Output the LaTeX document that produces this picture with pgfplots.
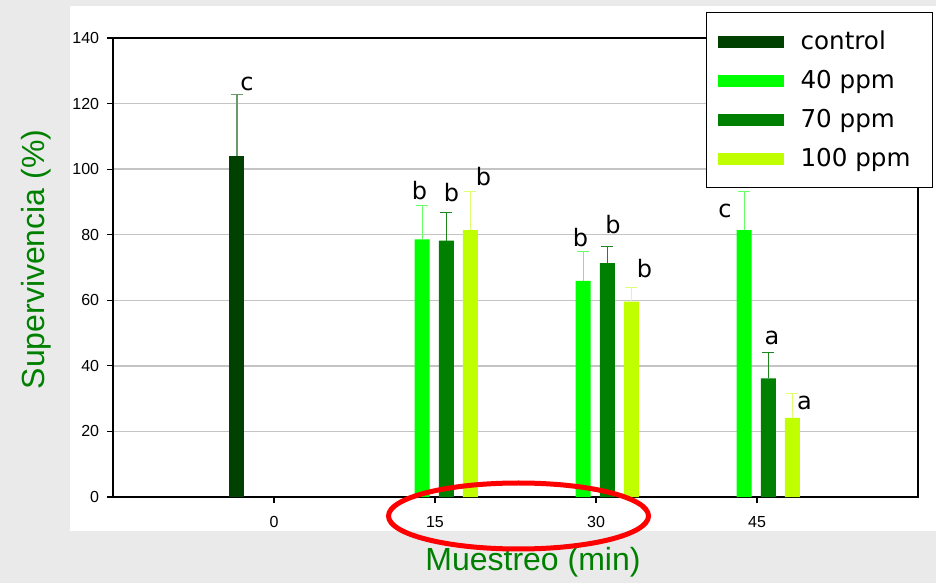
\documentclass[border=0pt]{standalone}
\usepackage{fontspec}
\setmainfont{Liberation Sans}
\newfontfamily\verd{DejaVu Sans}
\usepackage{pgfplots}
\pgfplotsset{compat=1.18}
\usepackage{pgfplotstable}

\definecolor{bggray}{HTML}{EAEAEA}
\definecolor{gridgray}{HTML}{C4C4C4}
\definecolor{cctrl}{HTML}{004000}
\definecolor{cforty}{HTML}{00FF00}
\definecolor{cseventy}{HTML}{008000}
\definecolor{chundred}{HTML}{C0FF00}
\definecolor{ectrl}{HTML}{6A9A6A}
\definecolor{eforty}{HTML}{66FF66}
\definecolor{eseventy}{HTML}{1E861E}
\definecolor{ehundred}{HTML}{DDFF70}
\definecolor{labgreen}{HTML}{008000}

\pgfplotstableread{
x y e
0 104.0 18.7
}\ctrl
\pgfplotstableread{
x y e
1 78.6 10.3
2 65.9 9.1
3 81.4 11.7
}\forty
\pgfplotstableread{
x y e
1 78.2 8.5
2 71.3 5.0
3 36.2 7.9
}\seventy
\pgfplotstableread{
x y e
1 81.4 11.7
2 59.6 4.4
3 24.1 7.5
}\hundred

\begin{document}
\begin{tikzpicture}[x=0.5pt,y=0.5pt]
\useasboundingbox (0,0) rectangle (936,583);
\fill[bggray] (0,0) rectangle (936,583);
\fill[white] (70,52) rectangle (936,577);
\begin{axis}[
  at={(56.5pt,43pt)}, anchor=south west,
  scale only axis, width=402.5pt, height=229.5pt,
  xmin=-1, xmax=4, ymin=0, ymax=140,
  xtick={0,1,2,3}, xticklabels={0,15,30,45},
  ytick={0,20,...,140},
  xtick pos=lower, ytick pos=left,
  tick align=outside, major tick length=3pt,
  tick style={black, line width=0.6pt},
  axis line style={black, line width=0.6pt},
  ymajorgrids, grid style={gridgray, line width=0.7pt},
  tick label style={font=\fontsize{8}{9}\selectfont},
  yticklabel style={xshift=-0.4pt},
  xticklabel style={yshift=-3pt},
  /pgf/number format/assume math mode=true,
  xlabel={Muestreo (min)},
  ylabel={Supervivencia (\%)},
  label style={font=\fontsize{16}{19}\selectfont, text=labgreen},
  xlabel style={at={(axis description cs:0.5217,-0.1612)}, anchor=base},
  ylabel style={at={(axis description cs:-0.0845,0.5174)}, anchor=base, rotate=0},
  ybar, bar width=0.093,
  legend image code/.code={\fill[#1] (0pt,-3pt) rectangle (33pt,3pt);},
  legend style={at={(0.7366,1.0566)}, anchor=north west, draw=black, line width=0.6pt, fill=white,
    inner xsep=5.5pt, inner ysep=4.75pt, row sep=0pt, column sep=8.5pt,
    font=\verd\fontsize{12.3}{14}\selectfont,
    nodes={inner sep=0pt, minimum height=19.5pt}},
  legend cell align=left,
]
\addplot[ybar, bar shift=-0.23, fill=cctrl, draw=none,
  error bars/.cd, y dir=plus, y explicit,
  error bar style={ectrl, line width=0.6pt},
  error mark options={rotate=90, mark size=3pt, ectrl, line width=0.6pt}]
  table[x=x, y=y, y error=e]{\ctrl};
\addplot[ybar, bar shift=-0.08, fill=cforty, draw=none,
  error bars/.cd, y dir=plus, y explicit,
  error bar style={eforty, line width=0.6pt},
  error mark options={rotate=90, mark size=3pt, eforty, line width=0.6pt}]
  table[x=x, y=y, y error=e]{\forty};
\addplot[ybar, bar shift=0.07, fill=cseventy, draw=none,
  error bars/.cd, y dir=plus, y explicit,
  error bar style={eseventy, line width=0.6pt},
  error mark options={rotate=90, mark size=3pt, eseventy, line width=0.6pt}]
  table[x=x, y=y, y error=e]{\seventy};
\addplot[ybar, bar shift=0.22, fill=chundred, draw=none,
  error bars/.cd, y dir=plus, y explicit,
  error bar style={ehundred, line width=0.6pt},
  error mark options={rotate=90, mark size=3pt, ehundred, line width=0.6pt}]
  table[x=x, y=y, y error=e]{\hundred};
\legend{\makebox[60.5pt][l]{control}, 40 ppm, 70 ppm, 100 ppm}

\begin{scope}[every node/.style={anchor=base, font=\verd\fontsize{12}{14}\selectfont, inner sep=0pt}]
\node at (axis cs:-0.168,124.1) {c};
\node at (axis cs:0.904,90.8) {b};
\node at (axis cs:1.102,90.1) {b};
\node at (axis cs:1.301,94.9) {b};
\node at (axis cs:1.904,76.3) {b};
\node at (axis cs:2.106,80.5) {b};
\node at (axis cs:2.301,66.8) {b};
\node at (axis cs:2.801,85.1) {c};
\node at (axis cs:3.093,46.4) {a};
\node at (axis cs:3.295,26.7) {a};
\end{scope}
\end{axis}
\draw[red, line width=2.5pt] (518.5,67) ellipse [x radius=130, y radius=33];
\end{tikzpicture}
\end{document}
